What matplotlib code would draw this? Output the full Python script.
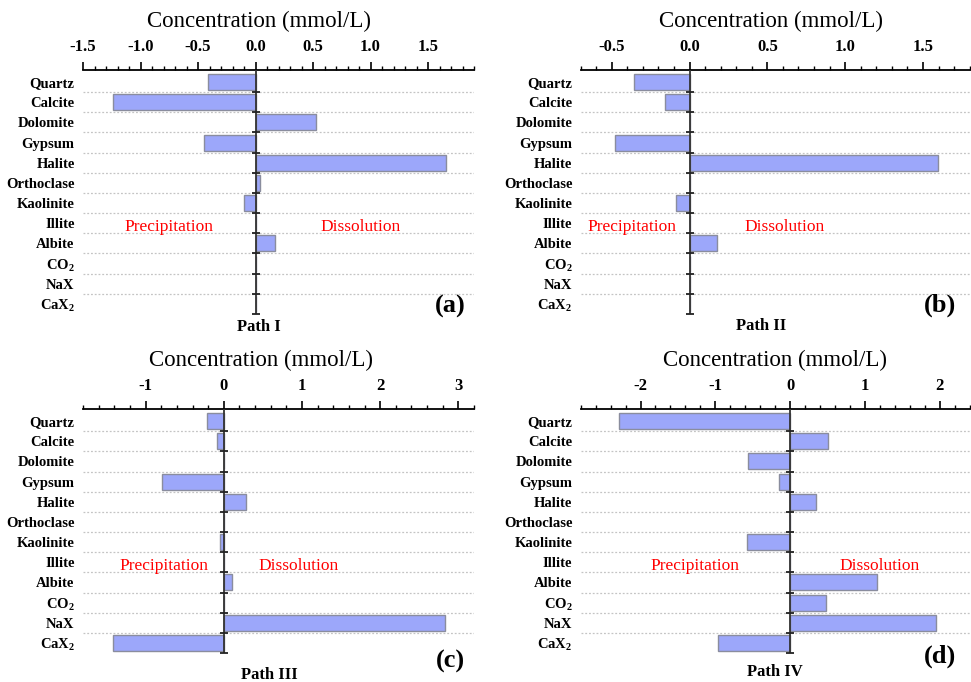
import matplotlib
matplotlib.use("Agg")
import matplotlib.pyplot as plt
import numpy as np
from matplotlib.ticker import MultipleLocator

# --- Data (mmol/L) ---
MINERALS = ["Quartz", "Calcite", "Dolomite", "Gypsum", "Halite", "Orthoclase",
            "Kaolinite", "Illite", "Albite", "CO$_2$", "NaX", "CaX$_2$"]

path_1 = [-0.41, -1.24, 0.53, -0.45, 1.66, 0.035, -0.10, 0.0, 0.17, 0.0, 0.0, 0.0]
path_2 = [-0.354, -0.156, 0.0, -0.48, 1.595, 0.0, -0.09, 0.0, 0.175, 0.0, 0.0, 0.0]
path_3 = [-0.21, -0.085, 0.0, -0.795, 0.28, 0.0, -0.05, 0.0, 0.107, 0.0, 2.83, -1.42]
path_4 = [-2.29, 0.50, -0.56, -0.147, 0.347, 0.0, -0.573, 0.0, 1.156, 0.484, 1.95, -0.969]

PATH_NAMES = ["Path I", "Path II", "Path III", "Path IV"]
PANEL_TAGS = ["(a)", "(b)", "(c)", "(d)"]

plt.rcParams["font.family"] = ["Liberation Serif", "DejaVu Serif"]
plt.rcParams["mathtext.fontset"] = "custom"
plt.rcParams["mathtext.rm"] = "Liberation Serif:bold"
plt.rcParams["mathtext.it"] = "Liberation Serif:bold"
plt.rcParams["mathtext.bf"] = "Liberation Serif:bold"

BAR_COLOR = "#9ca7fa"
EDGE_COLOR = "#8a8d9e"

# per panel: axes rect, xlim, major/minor step, tick format, text positions
PANELS = [
    dict(data=path_1, rect=[0.0855, 0.5396, 0.4027, 0.3578], xlim=(-1.5, 1.9),
         major=0.5, minor=0.1, fmt="{:.1f}", title_x=0.45, path_xy=(0.45, -0.055),
         tag_xy=(0.94, 0.03), prec_x=-0.75, diss_x=0.91),
    dict(data=path_2, rect=[0.598, 0.5396, 0.4006, 0.3578], xlim=(-0.7, 1.8),
         major=0.5, minor=0.1, fmt="{:.1f}", title_x=0.49, path_xy=(0.465, -0.05),
         tag_xy=(0.924, 0.037), prec_x=-0.37, diss_x=0.61),
    dict(data=path_3, rect=[0.0855, 0.0425, 0.4027, 0.3578], xlim=(-1.8, 3.2),
         major=1, minor=0.2, fmt="{:.0f}", title_x=0.455, path_xy=(0.476, -0.09),
         tag_xy=(0.94, -0.035), prec_x=-0.76, diss_x=0.96),
    dict(data=path_4, rect=[0.598, 0.0425, 0.4006, 0.3578], xlim=(-2.8, 2.4),
         major=1, minor=0.2, fmt="{:.0f}", title_x=0.5, path_xy=(0.5, -0.078),
         tag_xy=(0.924, -0.015), prec_x=-1.27, diss_x=1.2),
]

fig = plt.figure(figsize=(9.71, 6.82), dpi=100)

for p, name, tag in zip(PANELS, PATH_NAMES, PANEL_TAGS):
    ax = fig.add_axes(p["rect"])
    y = np.arange(len(MINERALS))
    ax.barh(y, p["data"], height=0.8, color=BAR_COLOR, edgecolor=EDGE_COLOR,
            linewidth=1.0, zorder=3)

    ax.set_xlim(*p["xlim"])
    ax.set_ylim(11.5, -0.6)

    # separators between rows
    seps = np.arange(0.5, len(MINERALS) - 1, 1)
    for b in seps:
        ax.axhline(b, color="#c4c4c4", linestyle=(0, (1.5, 1.5)), linewidth=0.9, zorder=1)

    # top x axis
    for s in ["bottom", "right", "left"]:
        ax.spines[s].set_visible(False)
    ax.spines["top"].set_linewidth(1.3)
    ax.xaxis.tick_top()
    ax.xaxis.set_major_locator(MultipleLocator(p["major"]))
    ax.xaxis.set_minor_locator(MultipleLocator(p["minor"]))
    ax.xaxis.set_major_formatter(plt.FuncFormatter(lambda v, pos, f=p["fmt"]: f.format(v)))
    ax.tick_params(axis="x", which="major", direction="out", length=6, width=1.2,
                   pad=5, labelsize=12)
    ax.tick_params(axis="x", which="minor", direction="out", length=3, width=1.0)
    for lab in ax.get_xticklabels():
        lab.set_fontweight("bold")

    # category labels on the left
    ax.set_yticks(y)
    ax.set_yticklabels(MINERALS, fontweight="bold", fontsize=10.5)
    ax.tick_params(axis="y", length=0, pad=6)

    # zero line with small ticks at the row separators and the bottom end
    ax.axvline(0, color="#333333", linewidth=1.3, zorder=4)
    tick_y = np.append(seps, ax.get_ylim()[0])
    ax.plot(np.zeros(len(tick_y)), tick_y, linestyle="none", marker="_",
            markersize=5.5, markeredgewidth=1.3, color="#222222", zorder=5,
            clip_on=False)

    ax.text(p["title_x"], 1.197, "Concentration (mmol/L)", transform=ax.transAxes,
            ha="center", va="center", fontsize=16.5)
    ax.text(p["path_xy"][0], p["path_xy"][1], name, transform=ax.transAxes,
            ha="center", va="center", fontsize=12, fontweight="bold")
    ax.text(p["tag_xy"][0], p["tag_xy"][1], tag, transform=ax.transAxes,
            ha="center", va="center", fontsize=19, fontweight="bold")

    ax.text(p["prec_x"], 7.2, "Precipitation", color="red", fontsize=12.5,
            ha="center", va="center", zorder=4)
    ax.text(p["diss_x"], 7.2, "Dissolution", color="red", fontsize=12.5,
            ha="center", va="center", zorder=4)

fig.savefig("out.png", dpi=100)
